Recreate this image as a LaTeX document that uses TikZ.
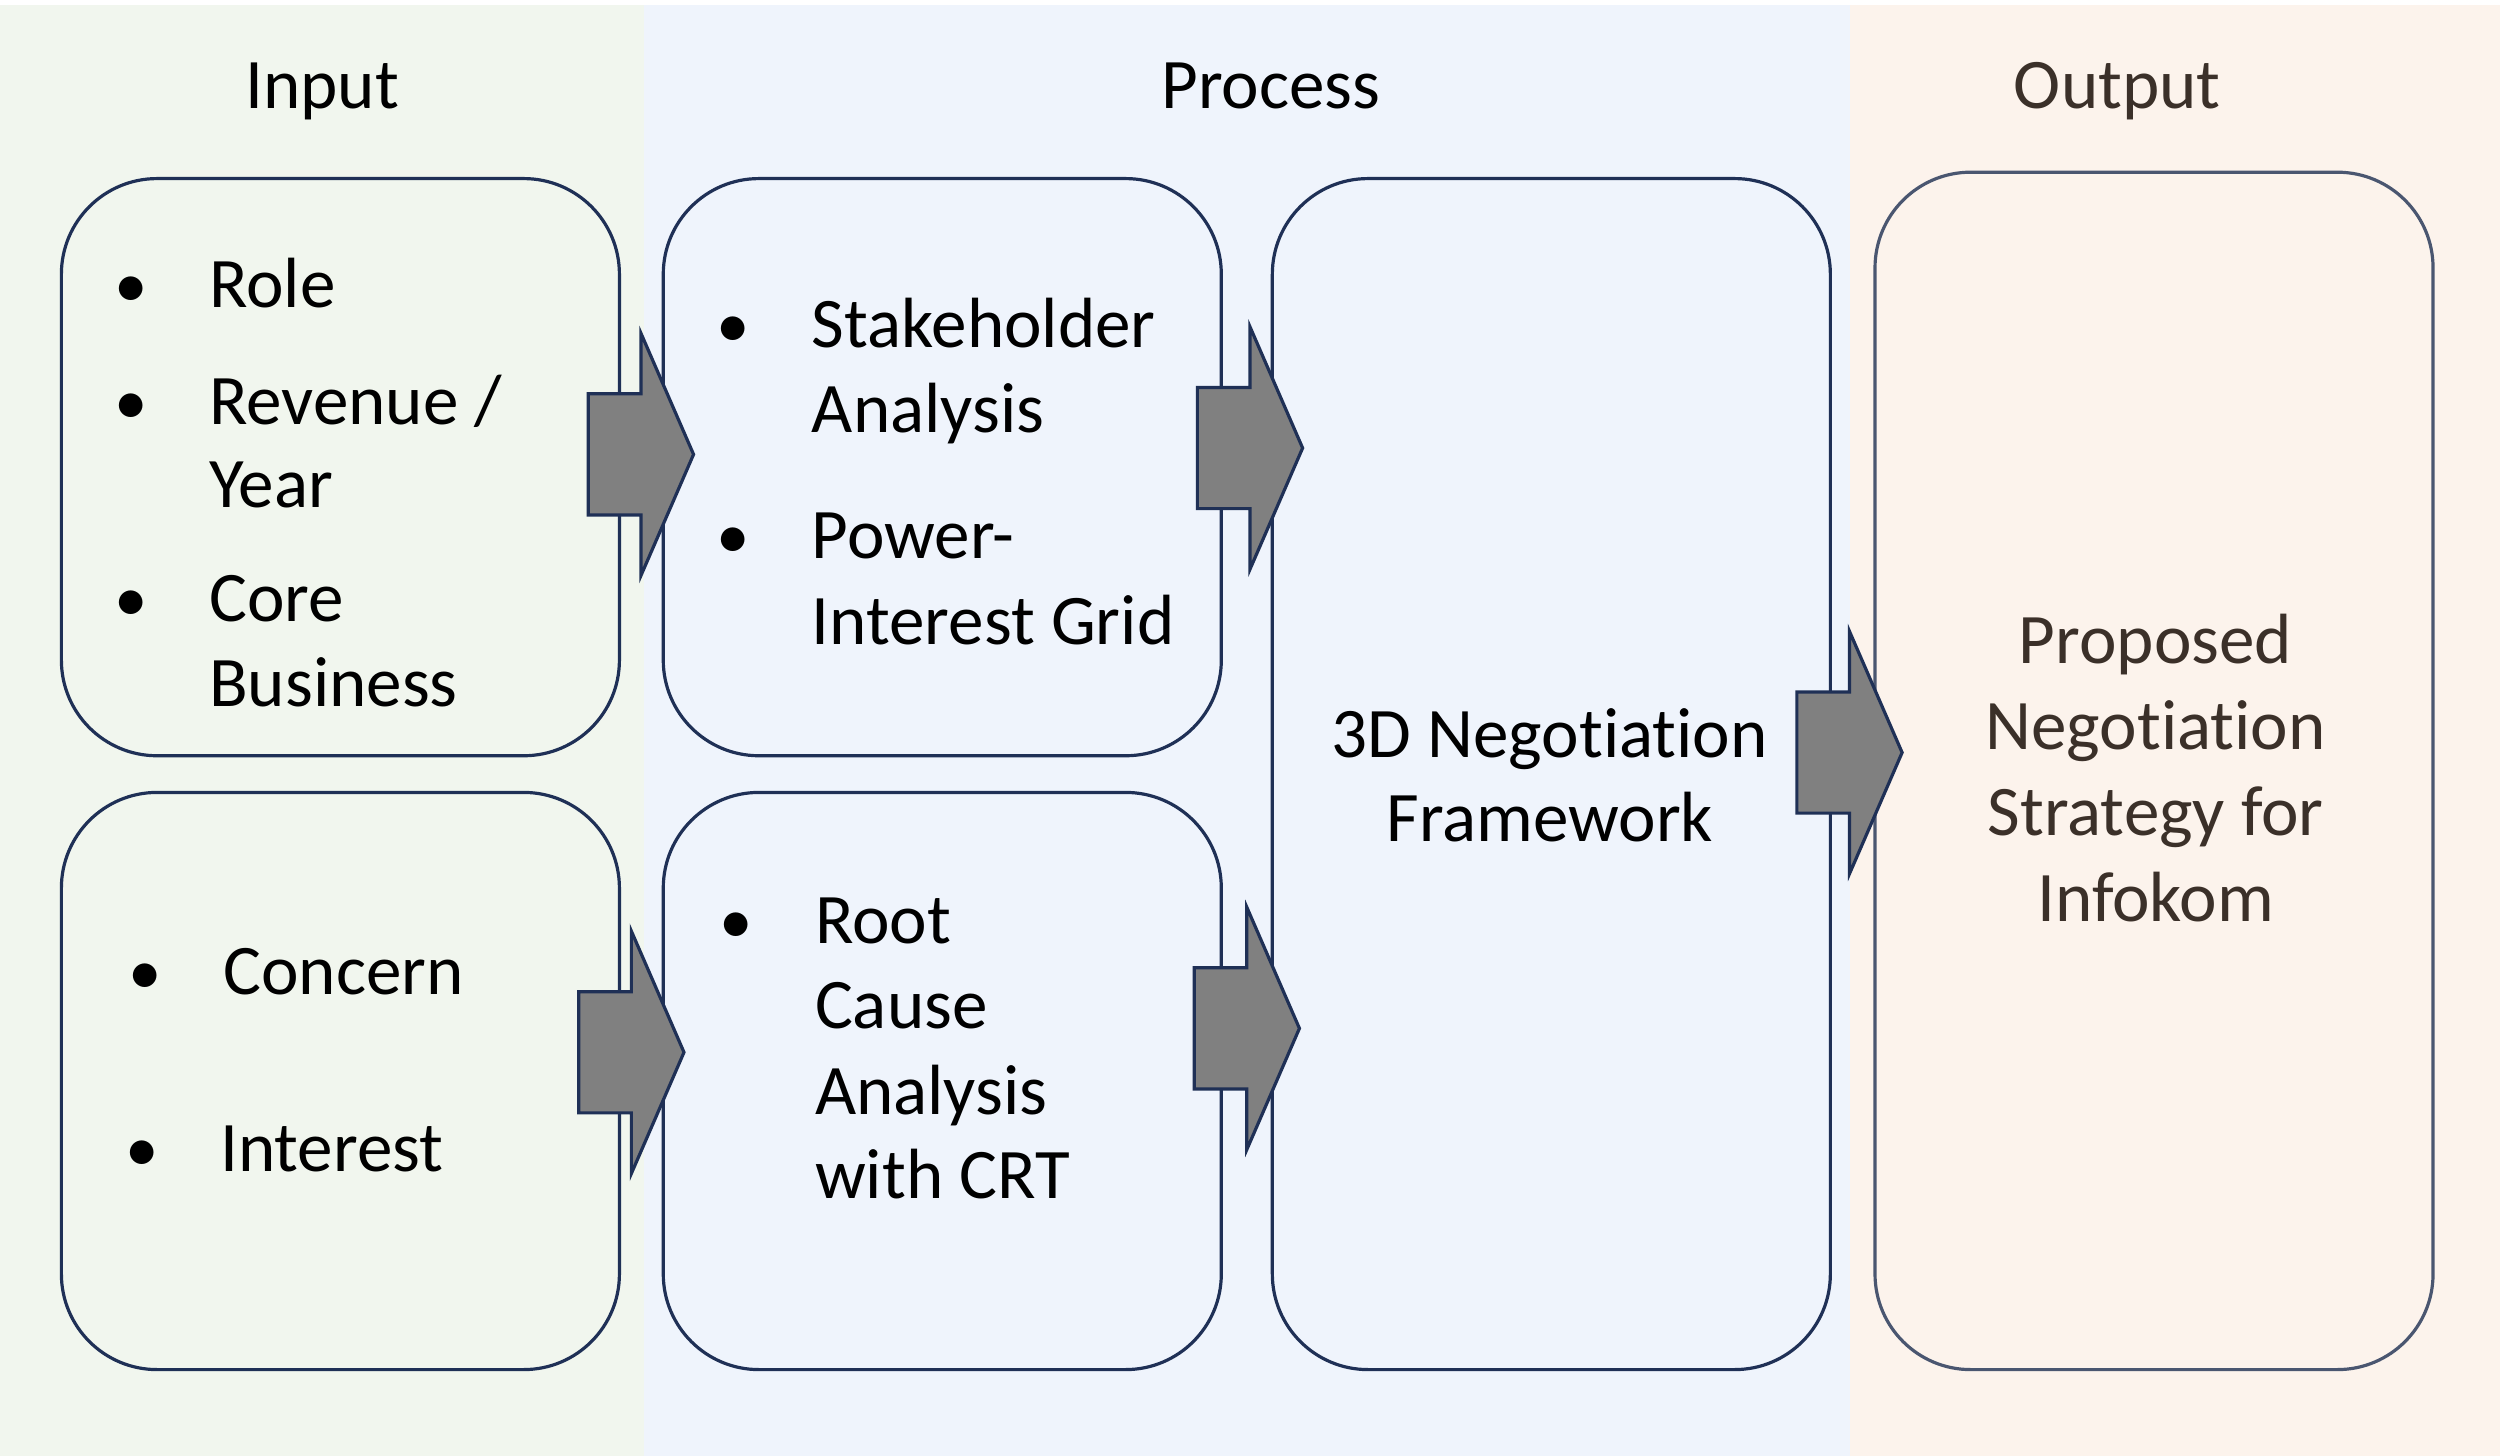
\documentclass[tikz,border=0pt]{standalone}
\usepackage{fontspec}
\setmainfont{Carlito}[Ligatures=NoCommon, Contextuals=NoAlternate]
\definecolor{bgin}{HTML}{F1F6EE}
\definecolor{bgproc}{HTML}{EFF4FC}
\definecolor{bgout}{HTML}{FCF3EC}
\definecolor{navy}{HTML}{1F3056}
\definecolor{outline}{HTML}{4A5670}
\definecolor{brownt}{HTML}{3B3029}
\definecolor{arrgray}{HTML}{808080}
\newcommand\nolig{\kern0pt }
\tikzset{
  box/.style={draw=navy, line width=2pt, rounded corners=60pt, minimum width=350pt, inner sep=0pt},
  outbox/.style={draw=outline, line width=2pt, rounded corners=60pt, minimum width=350pt, inner sep=0pt},
  txt/.style={inner sep=0pt, font=\fontsize{44.6}{54}\selectfont},
  bul/.style={inner sep=0pt, font=\fontsize{42}{54}\selectfont, anchor=base},
  blockarr/.pic={\draw[fill=arrgray, draw=navy, line width=2pt, line join=miter]
     (-66,-38) -- (-33,-38) -- (-33,-76) -- (0,0) -- (-33,76) -- (-33,38) -- (-66,38) -- cycle;}
}
\begin{document}
\begin{tikzpicture}[x=1pt,y=-1pt]
\useasboundingbox (0,0) rectangle (1568,913);
\fill[white] (0,0) rectangle (1568,913);
\fill[bgin] (0,3) rectangle (404,913);
\fill[bgproc] (404,3) rectangle (1160,913);
\fill[bgout] (1160,3) rectangle (1568,913);

% titles
\node[txt, anchor=base] (tin) at (202,68) {Input};
\node[txt, anchor=base] (tproc) at (797,68) {Process};
\node[txt, anchor=base, text=brownt] (tout) at (1328,68) {Output};

% boxes
\node[box, minimum height=362pt] (in1) at (213.5,293) {};
\node[box, minimum height=362pt] (in2) at (213.5,678) {};
\node[box, minimum height=362pt] (pr1) at (591,293) {};
\node[box, minimum height=362pt] (pr2) at (591,678) {};
\node[box, minimum height=747pt] (neg) at (973,485.5) {};
\node[outbox, minimum height=751pt] (outb) at (1351,483.5) {};

% arrows
\pic at (435,285) {blockarr};
\pic at (817,281) {blockarr};
\pic at (429,660) {blockarr};
\pic at (815,645) {blockarr};
\pic at (1193,472) {blockarr};

% input top
\node[bul] (b1) at (82,193) {•};
\node[txt, anchor=base west] (l1) at (131,193) {Role};
\node[bul] (b2) at (82,266) {•};
\node[txt, anchor=base west] (l2) at (131,266) {Revenue /};
\node[txt, anchor=base west] (l3) at (131,318) {Year};
\node[bul] (b3) at (82,390) {•};
\node[txt, anchor=base west] (l4) at (131,390) {Core};
\node[txt, anchor=base west] (l5) at (131,443) {Business};

% input bottom
\node[bul] (b4) at (91,624) {•};
\node[txt, anchor=base west] (l6) at (140,624) {Concern};
\node[bul] (b5) at (89,735) {•};
\node[txt, anchor=base west] (l7) at (138,735) {Interest};

% process top
\node[bul] (b6) at (460,218) {•};
\node[txt, anchor=base west] (p1) at (509,218) {Stakeholder};
\node[txt, anchor=base west] (p2) at (509,271) {Analysis};
\node[bul] (b7) at (460,350) {•};
\node[txt, anchor=base west] (p3) at (509,350) {Power-};
\node[txt, anchor=base west] (p4) at (509,404) {Interest Grid};

% process bottom
\node[bul] (b8) at (462,592) {•};
\node[txt, anchor=base west] (r1) at (511,592) {Root};
\node[txt, anchor=base west] (r2) at (511,645) {Cause};
\node[txt, anchor=base west] (r3) at (511,699) {Analysis};
\node[txt, anchor=base west] (r4) at (511,752) {with CRT};

% 3D
\node[txt, anchor=base] (n1) at (972,475) {3D Negot\nolig iat\nolig ion};
\node[txt, anchor=base] (n2) at (972,528) {Framework};

% output
\node[txt, anchor=base, text=brownt] (o1) at (1352,416) {Proposed};
\node[txt, anchor=base, text=brownt] (o2) at (1352,470) {Negot\nolig iat\nolig ion};
\node[txt, anchor=base, text=brownt] (o3) at (1352,524) {Strategy for};
\node[txt, anchor=base, text=brownt] (o4) at (1352,578) {Infokom};
\end{tikzpicture}
\end{document}
